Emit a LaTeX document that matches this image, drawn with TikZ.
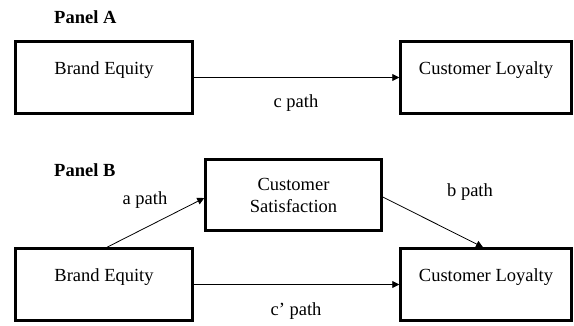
\documentclass[tikz,border=0pt]{standalone}
\usepackage{fontspec}
\setmainfont{Liberation Serif}
\usetikzlibrary{arrows.meta, calc}

\begin{document}
\begin{tikzpicture}
		[x=1pt,y=-1pt,line cap=round,
		%Styles
		every node/.style={font=\fontsize{18.5}{22}\selectfont},
		construct/.style={draw,line width=2.5pt,minimum width=177pt,minimum height=72pt,inner sep=0pt,text height=12pt,text depth=19pt},
		construct two/.style={draw,line width=2.5pt,minimum width=176pt,minimum height=71pt,inner sep=0pt,align=center},
		path arrow/.style={-{Triangle[length=7pt,width=7pt]},line width=.8pt},
		panel title/.style={anchor=base west,inner sep=0pt,font=\fontsize{18.5}{22}\selectfont\bfseries}
		]
		
		\useasboundingbox (0, 0) rectangle (574, 325);
		
		%Panel A
		\node[panel title] (titleA) at (54, 23) {Panel A};
		\node[construct] (equityA) at (104, 77.5) {Brand Equity};
		\node[construct,minimum width=171pt] (loyaltyA) at (486, 77.5) {Customer Loyalty};
		\draw[path arrow] (equityA) -- (loyaltyA);
		\node (cpath) at (296, 103) {c path};
		
		%Panel B
		\node[panel title] (titleB) at (54, 176) {Panel B};
		\node[construct two] (satisfaction) at (293.5, 195) {Customer\\Satisfaction};
		\node[construct] (equityB) at (104, 284.5) {Brand Equity};
		\node[construct,minimum width=171pt] (loyaltyB) at (486, 284.5) {Customer Loyalty};
		
		\draw[path arrow] ($(equityB.north)+(3, 0)$) -- ($(satisfaction.west)+(0, 3)$);
		\draw[path arrow] ($(satisfaction.east)+(0, 2)$) -- ($(loyaltyB.north)+(-3, 0)$);
		\draw[path arrow] (equityB) -- (loyaltyB);
		
		\node (apath) at (145, 200) {a path};
		\node (bpath) at (470, 192) {b path};
		\node (cprimepath) at (296, 311) {c’ path};
		
\end{tikzpicture}
\end{document}
